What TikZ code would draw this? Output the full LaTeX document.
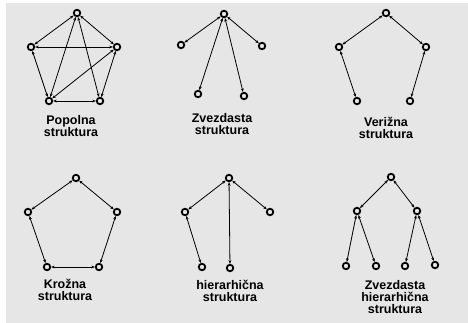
\documentclass[tikz,border=0pt]{standalone}
\usepackage{fontspec}
\setmainfont{Liberation Sans}
\usepackage{xcolor}
\usepackage{tikz}
\usetikzlibrary{arrows.meta, positioning}
\definecolor{panelgray}{RGB}{230,230,230}

\begin{document}
\begin{tikzpicture}[
    x=1pt,y=-1pt,
    vtx/.style={circle,draw,line width=1.8pt,inner sep=0pt,minimum size=6.5pt},
    link/.style={{Stealth[length=3.6pt,width=2.8pt]}-{Stealth[length=3.6pt,width=2.8pt]},
      line width=0.8pt},
    title/.style={align=center,anchor=north,inner sep=0pt,
      font=\fontsize{12.5}{12}\selectfont\bfseries}
  ]

  % background
  \useasboundingbox (0,0) rectangle (468,323);
  \fill[panelgray] (6,3) rectangle (468,323);

  % Popolna
  \node[vtx] (pT)  at (77,13) {};
  \node[vtx] (pL)  at (31,47) {};
  \node[vtx] (pR)  at (117,47) {};
  \node[vtx] (pBL) at (49,101) {};
  \node[vtx] (pBR) at (100,101) {};
  \draw[link] (pT) -- (pL);
  \draw[link] (pT) -- (pR);
  \draw[link] (pL) -- (pR);
  \draw[link] (pL) -- (pBL);
  \draw[link] (pR) -- (pBR);
  \draw[link] (pBL) -- (pBR);
  \draw[link] (pT) -- (pBL);
  \draw[link] (pT) -- (pBR);
  \draw[link] (pR) -- (pBL);
  \node[title] (ptitle) at (71,115) {Popolna\\struktura};

  % Zvezdasta
  \node[vtx] (zT)  at (224,14) {};
  \node[vtx] (zL)  at (181,45) {};
  \node[vtx] (zR)  at (262,46) {};
  \node[vtx] (zBL) at (198,94) {};
  \node[vtx] (zBR) at (244,96) {};
  \foreach \n in {zL,zR,zBL,zBR}
    \draw[link] (zT) -- (\n);
  \node[title] (ztitle) at (222,113) {Zvezdasta\\struktura};

  % Verizna
  \node[vtx] (vT)  at (386,13) {};
  \node[vtx] (vL)  at (339,47) {};
  \node[vtx] (vR)  at (426,47) {};
  \node[vtx] (vBL) at (357,101) {};
  \node[vtx] (vBR) at (410,101) {};
  \draw[link] (vT) -- (vL);
  \draw[link] (vT) -- (vR);
  \draw[link] (vL) -- (vBL);
  \draw[link] (vR) -- (vBR);
  \node[title] (vtitle) at (386,117) {Veri\v{z}na\\struktura};

  % Krozna
  \node[vtx] (kT)  at (76,178) {};
  \node[vtx] (kL)  at (28,212) {};
  \node[vtx] (kR)  at (117,212) {};
  \node[vtx] (kBL) at (47,267) {};
  \node[vtx] (kBR) at (99,267) {};
  \draw[link] (kT) -- (kL);
  \draw[link] (kT) -- (kR);
  \draw[link] (kL) -- (kBL);
  \draw[link] (kR) -- (kBR);
  \draw[link] (kBL) -- (kBR);
  \node[title] (ktitle) at (65,279) {Kro\v{z}na\\struktura};

  % hierarhicna
  \node[vtx] (hT)  at (229,178) {};
  \node[vtx] (hL)  at (185,212) {};
  \node[vtx] (hR)  at (270,212) {};
  \node[vtx] (hBL) at (202,267) {};
  \node[vtx] (hBM) at (230,268) {};
  \draw[link] (hT) -- (hL);
  \draw[link] (hT) -- (hR);
  \draw[link] (hT) -- (hBM);
  \draw[link] (hL) -- (hBL);
  \node[title] (htitle) at (230,280) {hierarhi\v{c}na\\struktura};

  % Zvezdasta hierarhicna
  \node[vtx] (sT)  at (391,177) {};
  \node[vtx] (sL)  at (357,211) {};
  \node[vtx] (sR)  at (417,211) {};
  \node[vtx] (s1)  at (346,266) {};
  \node[vtx] (s2)  at (376,266) {};
  \node[vtx] (s3)  at (405,266) {};
  \node[vtx] (s4)  at (435,265) {};
  \draw[link] (sT) -- (sL);
  \draw[link] (sT) -- (sR);
  \draw[link] (sL) -- (s1);
  \draw[link] (sL) -- (s2);
  \draw[link] (sR) -- (s3);
  \draw[link] (sR) -- (s4);
  \node[title] (stitle) at (395,280) {Zvezdasta\\hierarhi\v{c}na\\struktura};
\end{tikzpicture}
\end{document}
